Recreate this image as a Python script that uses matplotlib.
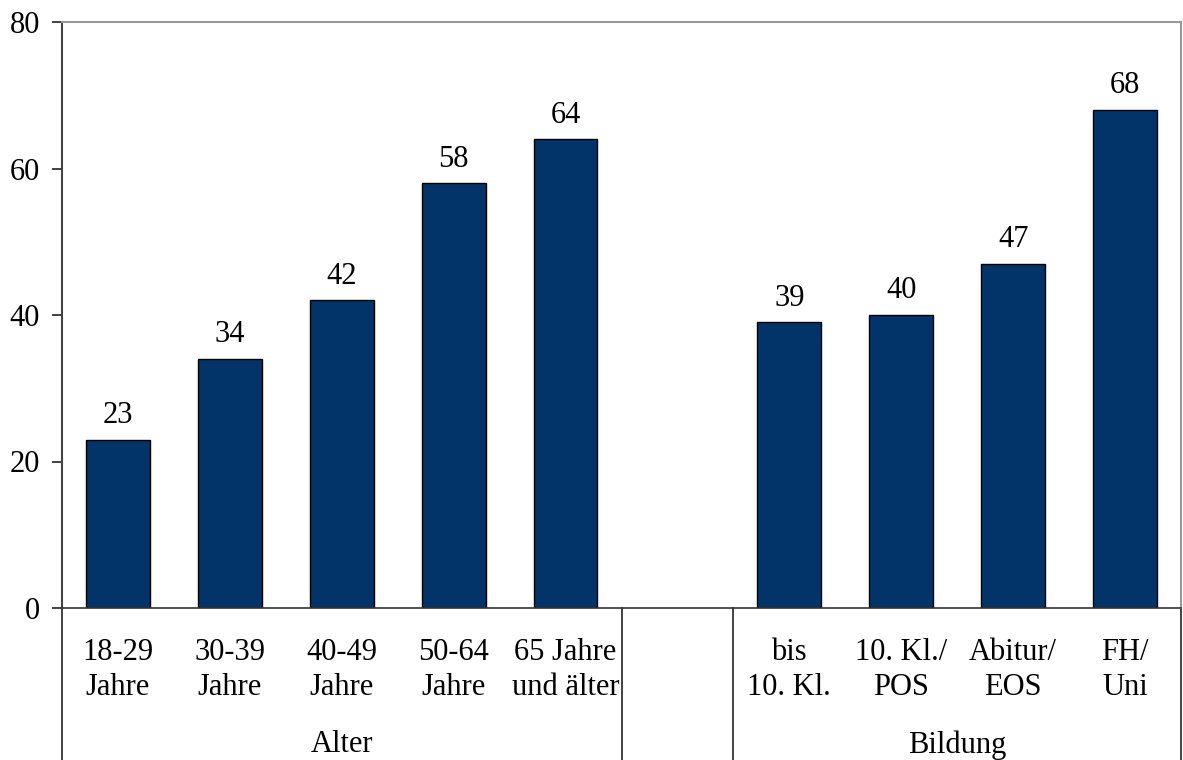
import numpy as np
import matplotlib.pyplot as plt
from matplotlib.transforms import blended_transform_factory

plt.rcParams['font.family'] = ['Liberation Serif', 'DejaVu Serif']

# Data
age_labels = ['18-29\nJahre', '30-39\nJahre', '40-49\nJahre', '50-64\nJahre', '65 Jahre\nund älter']
age_values = [23, 34, 42, 58, 64]
edu_labels = ['bis\n10. Kl.', '10. Kl./\nPOS', 'Abitur/\nEOS', 'FH/\nUni']
edu_values = [39, 40, 47, 68]
group_names = ['Alter', 'Bildung']
yticks = [0, 20, 40, 60, 80]

bar_color = '#02346a'
fs = 22

fig = plt.figure(figsize=(11.83, 7.6), dpi=100)
ax = fig.add_axes([62 / 1183, 152 / 760, 1119 / 1183, 586 / 760])

# one empty slot between the two groups
age_x = np.arange(len(age_values))
edu_x = np.arange(len(edu_values)) + len(age_values) + 1
n_slots = len(age_values) + 1 + len(edu_values)

for xs, vals in [(age_x, age_values), (edu_x, edu_values)]:
    ax.bar(xs, vals, width=0.57, color=bar_color, edgecolor='black', linewidth=1)
    for x, v in zip(xs, vals):
        ax.text(x, v + 1.3, str(v), ha='center', va='bottom', fontsize=fs)

ax.set_xlim(-0.5, n_slots - 0.5)
ax.set_ylim(0, 80)
ax.set_yticks(yticks)
ax.tick_params(axis='y', labelsize=fs, length=7, width=1.2, color='#222222', pad=9)
ax.set_xticks([])

ax.spines['left'].set_color('#444444')
ax.spines['left'].set_linewidth(1.5)
ax.spines['bottom'].set_color('#333333')
ax.spines['bottom'].set_linewidth(1.2)
ax.spines['top'].set_color('#999999')
ax.spines['top'].set_linewidth(1.5)
ax.spines['right'].set_color('#999999')
ax.spines['right'].set_linewidth(1.5)

# category labels (two-line) below axis
trans = blended_transform_factory(ax.transData, fig.transFigure)
for xs, labels in [(age_x, age_labels), (edu_x, edu_labels)]:
    for x, lab in zip(xs, labels):
        ax.text(x, 1 - 670 / 760, lab, ha='center', va='center', fontsize=fs,
                linespacing=1.3, transform=trans)

# group labels
ax.text((age_x[0] + age_x[-1]) / 2, 1 - 745 / 760, group_names[0], ha='center',
        va='center', fontsize=fs, transform=trans)
ax.text((edu_x[0] + edu_x[-1]) / 2, 1 - 745 / 760, group_names[1], ha='center',
        va='center', fontsize=fs, transform=trans)

# separator lines below the axis
for sx in [-0.5, age_x[-1] + 0.5, edu_x[0] - 0.5, n_slots - 0.5]:
    ax.plot([sx, sx], [0, 152 / 760], color='#222222', linewidth=1.2,
            transform=trans, clip_on=False)

fig.savefig('out.png', dpi=100)
